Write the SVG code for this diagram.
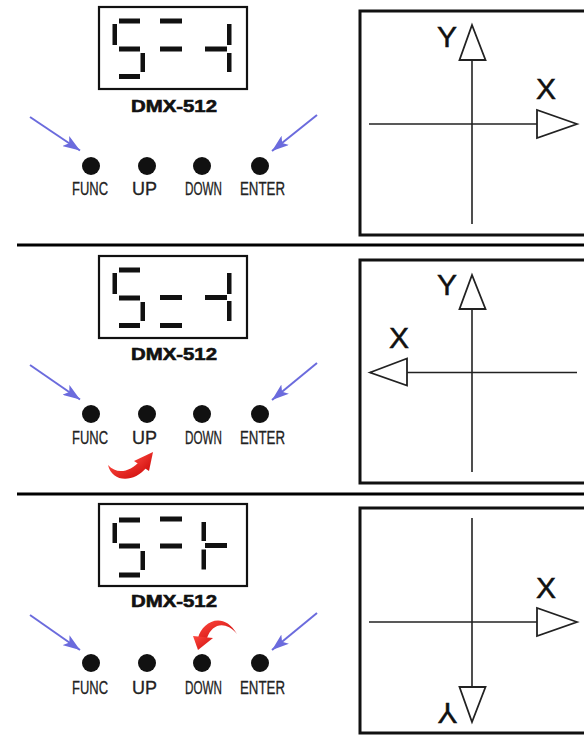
<svg xmlns="http://www.w3.org/2000/svg" width="584" height="744" viewBox="0 0 584 744">
<style>
.lcd{fill:none;stroke:#111;stroke-width:2.2}
.seg{fill:#111}
.dmx{font-family:"Liberation Sans",Arial,sans-serif;font-weight:900;font-size:17px;fill:#111;stroke:#111;stroke-width:0.6}
.btn{fill:#111}
.lbl{font-family:"Liberation Sans",Arial,sans-serif;font-size:18px;fill:#222;stroke:#222;stroke-width:0.3}
.frame{fill:none;stroke:#111;stroke-width:3}
.axis{stroke:#222;stroke-width:1.6;fill:none}
.head{fill:#fff;stroke:#222;stroke-width:1.8;stroke-linejoin:miter}
.ax{font-family:"Liberation Sans",Arial,sans-serif;font-size:30px;fill:#111;stroke:#111;stroke-width:0.5}
.blue{stroke:#6b6bdd;stroke-width:2;fill:none;marker-end:url(#bh)}
.sep{stroke:#000;stroke-width:3}
.red{fill:url(#rg)}
</style>
<defs>
<marker id="bh" markerUnits="userSpaceOnUse" markerWidth="18" markerHeight="12" refX="17" refY="6" orient="auto">
<path d="M0,0 L17,6 L0,12 L4,6 Z" fill="#6b6bdd"/>
</marker>
<linearGradient id="rg" x1="0" y1="0" x2="1" y2="1">
<stop offset="0" stop-color="#ff4a40"/>
<stop offset="1" stop-color="#cc0a0a"/>
</linearGradient>
</defs>
<rect width="584" height="744" fill="#fff"/>

<g id="connectors">
<line class="sep" x1="17" y1="245" x2="584" y2="245"/>
<line class="sep" x1="17" y1="494" x2="584" y2="494"/>
</g>

<!-- Panel 1 -->
<g id="panel1">
<g id="p1-lcd">
<rect class="lcd" x="99" y="7" width="148" height="82"/>
<rect class="seg" x="119" y="18.5" width="21" height="5"/>
<rect class="seg" x="112.5" y="24" width="4.5" height="21"/>
<rect class="seg" x="119" y="46.5" width="21" height="5"/>
<rect class="seg" x="140.5" y="53" width="4.5" height="19"/>
<rect class="seg" x="119" y="74" width="21" height="5"/>
<rect class="seg" x="160" y="18.5" width="22" height="5"/>
<rect class="seg" x="160" y="46.5" width="22" height="5"/>
<rect class="seg" x="205" y="46.5" width="22" height="5"/>
<rect class="seg" x="227" y="24" width="4.5" height="21"/>
<rect class="seg" x="227" y="53" width="4.5" height="19"/>
<text class="dmx" x="131" y="112" textLength="86" lengthAdjust="spacingAndGlyphs">DMX-512</text>
</g>
<g id="p1-buttons">
<circle class="btn" cx="91" cy="166" r="9"/>
<circle class="btn" cx="147" cy="166" r="9"/>
<circle class="btn" cx="202" cy="166" r="9"/>
<circle class="btn" cx="260" cy="166" r="9"/>
<text class="lbl" x="72" y="195" textLength="36" lengthAdjust="spacingAndGlyphs">FUNC</text>
<text class="lbl" x="132" y="195" textLength="25" lengthAdjust="spacingAndGlyphs">UP</text>
<text class="lbl" x="185" y="195" textLength="37" lengthAdjust="spacingAndGlyphs">DOWN</text>
<text class="lbl" x="240" y="195" textLength="45" lengthAdjust="spacingAndGlyphs">ENTER</text>
<path class="blue" d="M30,117 L80,150.5"/>
<path class="blue" d="M317,115 L272,151"/>
</g>
<g id="p1-axes">
<rect class="frame" x="360" y="11" width="230" height="224"/>
<line class="axis" x1="472" y1="25" x2="472" y2="224"/>
<line class="axis" x1="369" y1="124" x2="577" y2="124"/>
<polygon class="head" points="472,25 459.5,60 485.5,60"/>
<polygon class="head" points="577,124 537,110 537,138"/>
<text class="ax" x="447" y="47" text-anchor="middle">Y</text>
<text class="ax" x="546" y="99" text-anchor="middle">X</text>
</g>
</g>

<!-- Panel 2 -->
<g id="panel2" transform="translate(0,249)">
<g id="p2-lcd">
<rect class="lcd" x="99" y="7" width="148" height="82"/>
<rect class="seg" x="119" y="18.5" width="21" height="5"/>
<rect class="seg" x="112.5" y="24" width="4.5" height="21"/>
<rect class="seg" x="119" y="46.5" width="21" height="5"/>
<rect class="seg" x="140.5" y="53" width="4.5" height="19"/>
<rect class="seg" x="119" y="74" width="21" height="5"/>
<rect class="seg" x="160" y="46" width="22" height="5"/>
<rect class="seg" x="160" y="74" width="22" height="5"/>
<rect class="seg" x="205" y="46" width="22" height="5"/>
<rect class="seg" x="227" y="24" width="4.5" height="21"/>
<rect class="seg" x="227" y="52" width="4.5" height="20"/>
<text class="dmx" x="131" y="111" textLength="86" lengthAdjust="spacingAndGlyphs">DMX-512</text>
</g>
<g id="p2-buttons">
<circle class="btn" cx="91" cy="165" r="9"/>
<circle class="btn" cx="147" cy="165" r="9"/>
<circle class="btn" cx="202" cy="165" r="9"/>
<circle class="btn" cx="260" cy="165" r="9"/>
<text class="lbl" x="72" y="195" textLength="36" lengthAdjust="spacingAndGlyphs">FUNC</text>
<text class="lbl" x="132" y="195" textLength="25" lengthAdjust="spacingAndGlyphs">UP</text>
<text class="lbl" x="185" y="195" textLength="37" lengthAdjust="spacingAndGlyphs">DOWN</text>
<text class="lbl" x="240" y="195" textLength="45" lengthAdjust="spacingAndGlyphs">ENTER</text>
<path class="blue" d="M30,116 L80,150.5"/>
<path class="blue" d="M317,114 L272,151"/>
<g id="p2-red">
<path class="red" d="M108,216 C112,233 133,235 147,218 L140,212 C130,223 117,226 108,216 Z"/>
<polygon class="red" points="134,212 153,203 149,222"/>
</g>
</g>
<g id="p2-axes">
<rect class="frame" x="360" y="11" width="230" height="223"/>
<line class="axis" x1="472" y1="26" x2="472" y2="223"/>
<line class="axis" x1="370" y1="123.5" x2="577" y2="123.5"/>
<polygon class="head" points="472,26 459.5,60 485.5,60"/>
<polygon class="head" points="370,123.5 407,109.5 407,136.5"/>
<text class="ax" x="447" y="46" text-anchor="middle">Y</text>
<text class="ax" x="399" y="99" text-anchor="middle">X</text>
</g>
</g>

<!-- Panel 3 -->
<g id="panel3" transform="translate(0,497)">
<g id="p3-lcd">
<rect class="lcd" x="99" y="7" width="148" height="82"/>
<rect class="seg" x="119" y="20.5" width="21" height="5"/>
<rect class="seg" x="112.5" y="26" width="4.5" height="20"/>
<rect class="seg" x="119" y="46.5" width="21" height="5"/>
<rect class="seg" x="140.5" y="54" width="4.5" height="19"/>
<rect class="seg" x="119" y="75.5" width="21" height="5"/>
<rect class="seg" x="160" y="19.5" width="22" height="5"/>
<rect class="seg" x="160" y="46.5" width="22" height="5"/>
<rect class="seg" x="205" y="46" width="22" height="5"/>
<rect class="seg" x="201.5" y="25" width="4.5" height="19"/>
<rect class="seg" x="201.5" y="52.5" width="4.5" height="20"/>
<text class="dmx" x="131" y="110" textLength="86" lengthAdjust="spacingAndGlyphs">DMX-512</text>
</g>
<g id="p3-buttons">
<circle class="btn" cx="91" cy="166" r="9"/>
<circle class="btn" cx="147" cy="166" r="9"/>
<circle class="btn" cx="202" cy="166" r="9"/>
<circle class="btn" cx="260" cy="166" r="9"/>
<text class="lbl" x="72" y="197" textLength="36" lengthAdjust="spacingAndGlyphs">FUNC</text>
<text class="lbl" x="132" y="197" textLength="25" lengthAdjust="spacingAndGlyphs">UP</text>
<text class="lbl" x="185" y="197" textLength="37" lengthAdjust="spacingAndGlyphs">DOWN</text>
<text class="lbl" x="240" y="197" textLength="45" lengthAdjust="spacingAndGlyphs">ENTER</text>
<path class="blue" d="M30,118 L80,153"/>
<path class="blue" d="M317,116 L272,153"/>
<g id="p3-red">
<path class="red" d="M198,141 C202,125 223,113 237,137 C225,123 212,127 207,141 Z"/>
<polygon class="red" points="193,139 213,141 198,153"/>
</g>
</g>
<g id="p3-axes">
<rect class="frame" x="360" y="11" width="230" height="225"/>
<line class="axis" x1="472" y1="21" x2="472" y2="225"/>
<line class="axis" x1="369" y1="125" x2="577" y2="125"/>
<polygon class="head" points="577,125 537,111 537,139"/>
<polygon class="head" points="472,225 459.5,190 485.5,190"/>
<text class="ax" x="546" y="101" text-anchor="middle">X</text>
<text class="ax" x="447.5" y="227.5" text-anchor="middle" transform="rotate(180 447.5 216.5)">Y</text>
</g>
</g>
</svg>
